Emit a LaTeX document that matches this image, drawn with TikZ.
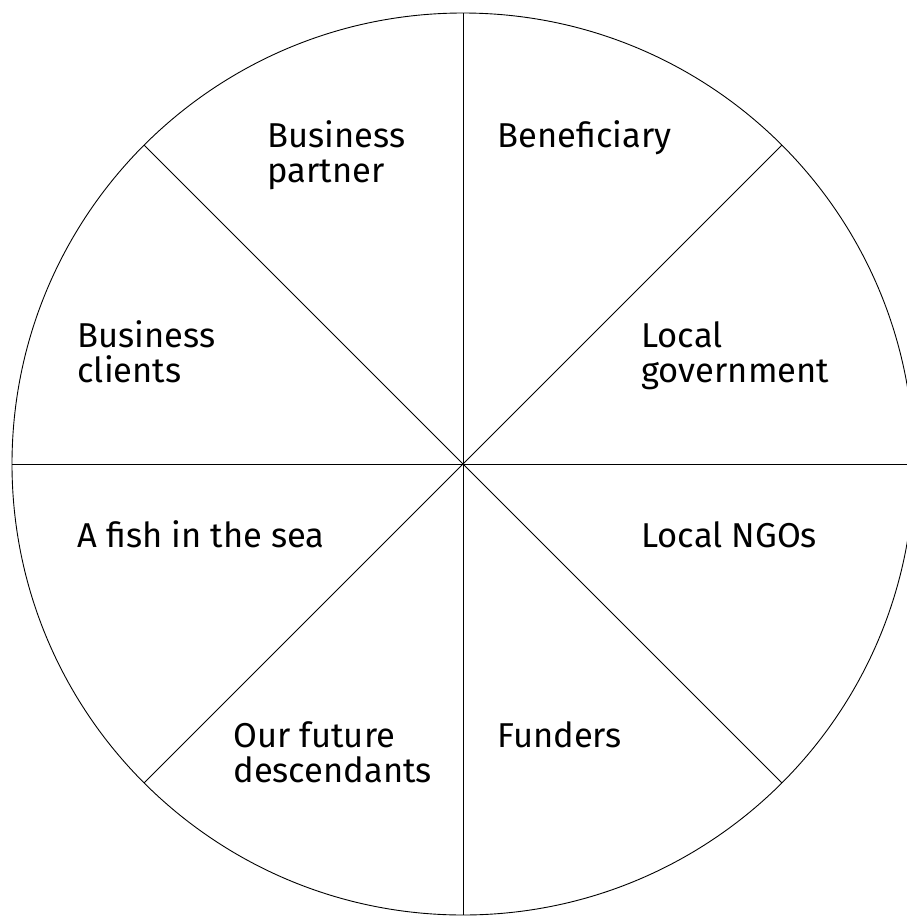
\documentclass[tikz,border=0pt]{standalone}
\usepackage{fontspec}
\setmainfont{Fira Sans}
\usepackage{tikz}

\tikzset{
  segtext/.style={anchor=base west, align=left, inner sep=0pt,
    font=\fontsize{34.5}{35}\selectfont}
}

\begin{document}
\begin{tikzpicture}[x=1pt, y=-1pt, line width=0.9pt]
          \useasboundingbox (0,0) rectangle (907,916);
          % the wheel
          \coordinate (hub) at (463,464);
          \draw (hub) circle (451);
          % eight spokes
          \foreach \ang/\nm in {0/e,45/ne,90/n,135/nw,180/w,225/sw,270/s,315/se}
            \draw (hub) -- ++(\ang:451) coordinate (rim\nm);
          % labels (base = last line)
          \node[segtext] (bpartner) at (267,182) {Business\\partner};
          \node[segtext] (benef) at (497,147) {Beneficiary};
          \node[segtext] (bclients) at (77,382) {Business\\clients};
          \node[segtext] (localgov) at (641,382) {Local\\government};
          \node[segtext] (fish) at (77,547) {A fish in the sea};
          \node[segtext] (ngos) at (641,547) {Local NGOs};
          \node[segtext] (future) at (233,782) {Our future\\descendants};
          \node[segtext] (funders) at (497,747) {Funders};
        \end{tikzpicture}
\end{document}
